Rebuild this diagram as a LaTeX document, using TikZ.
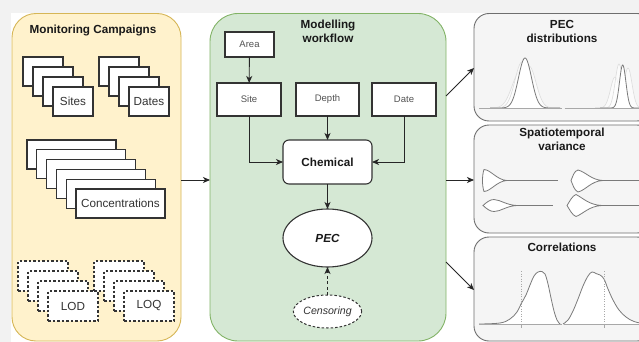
\documentclass[tikz,border=0pt]{standalone}
\usepackage{fontspec}
\setmainfont{Liberation Sans}
\usetikzlibrary{arrows.meta,shapes.geometric,calc}

\definecolor{pagegray}{HTML}{F2F2F2}
\definecolor{yelfill}{HTML}{FFF2CC}
\definecolor{yelline}{HTML}{D6B656}
\definecolor{grnfill}{HTML}{D5E8D4}
\definecolor{grnline}{HTML}{82B366}
\definecolor{panfill}{HTML}{F5F5F5}
\definecolor{panline}{HTML}{6E6E6E}
\definecolor{txtgray}{HTML}{333333}
\definecolor{plotline}{HTML}{7A7A7A}
\definecolor{faintline}{HTML}{DCDCDC}
\definecolor{axisgray}{HTML}{A8A8A8}

\newcommand{\fsbig}{\fontsize{11.7}{14}\selectfont}
\newcommand{\fsmid}{\fontsize{10.6}{12}\selectfont}
\newcommand{\fssmall}{\fontsize{9.5}{11}\selectfont}

\begin{document}
\begin{tikzpicture}[x=1pt,y=-1pt,
  every node/.style={inner sep=0pt, outer sep=0pt},
  lane/.style={draw, line width=0.9pt, rounded corners=24pt},
  panel/.style={draw=panline, fill=panfill, line width=0.9pt, rounded corners=15pt},
  stackbox/.style={draw=txtgray, fill=white, line width=1.1pt, font=\fsbig, text=txtgray},
  dashbox/.style={stackbox, dash pattern=on 2.5pt off 2pt},
  flowbox/.style={draw=txtgray, fill=white, line width=1.1pt, font=\fssmall, text=txtgray!85,
    minimum height=33pt},
  flow/.style={draw=black!85, line width=0.9pt, -{Stealth[length=7pt,width=6pt,inset=2pt]}},
  title/.style={font=\fsbig\bfseries, text=black!90, align=center},
  curve/.style={draw=plotline, line width=0.8pt, fill=white},
  faint/.style={draw=faintline, line width=0.6pt, fill=white, fill opacity=0.6},
  axis/.style={draw=axisgray, line width=0.8pt},
  guide/.style={draw=axisgray, line width=0.6pt, dash pattern=on 1pt off 1.5pt}
]
\useasboundingbox (0,0) rectangle (639,342);
\fill[pagegray] (0,0) rectangle (639,342);
\fill[white] (11,13) rectangle (639,342);

% ---------- containers ----------
\node[lane, draw=yelline, fill=yelfill, minimum width=169pt, minimum height=327.5pt]
  (camp) at (96.5,177.25) {};
\node[lane, draw=grnline, fill=grnfill, rounded corners=28pt, minimum width=236pt, minimum height=327.5pt]
  (model) at (328,177.25) {};
\node[panel, minimum width=178pt, minimum height=107.5pt] (p1) at (563,67.25) {};
\node[panel, minimum width=178pt, minimum height=108pt] (p2) at (563,179) {};
\node[panel, minimum width=178pt, minimum height=104pt] (p3) at (563,289) {};

% ---------- monitoring campaigns ----------
\node[title] (camptitle) at (93,31) {Monitoring Campaigns};

\foreach \i in {0,...,2}
  \node[stackbox, minimum width=40pt, minimum height=29pt] (sitesb\i) at (43+10*\i,71.5+10*\i) {};
\node[stackbox, minimum width=40pt, minimum height=29pt] (sites) at (73,101.5) {Sites};

\foreach \i in {0,...,2}
  \node[stackbox, minimum width=40pt, minimum height=29pt] (datesb\i) at (119+10*\i,71.5+10*\i) {};
\node[stackbox, minimum width=40pt, minimum height=29pt] (dates) at (149,101.5) {Dates};

\foreach \i in {0,...,4}
  \node[stackbox, minimum width=89pt, minimum height=29pt] (concb\i) at (71.5+9.8*\i,154.5+9.8*\i) {};
\node[stackbox, minimum width=89pt, minimum height=29pt] (conc) at (120.5,203.5) {Concentrations};

\foreach \i in {0,...,2}
  \node[dashbox, minimum width=50pt, minimum height=30pt] (lodb\i) at (43+10*\i,276+10*\i) {};
\node[dashbox, minimum width=50pt, minimum height=30pt] (lod) at (73,306) {LOD};

\foreach \i in {0,...,2}
  \node[dashbox, minimum width=50pt, minimum height=30pt] (loqb\i) at (119+10*\i,276+10*\i) {};
\node[dashbox, minimum width=50pt, minimum height=30pt] (loq) at (149,306) {LOQ};

% ---------- modelling workflow ----------
\node[title] (modtitle) at (328,31.5) {Modelling\\workflow};
\node[flowbox, minimum width=49pt, minimum height=25pt] (area) at (249.5,44.5) {Area};
\node[flowbox, minimum width=64pt] (site) at (249,99.5) {Site};
\node[flowbox, minimum width=63pt] (depth) at (327.5,99.5) {Depth};
\node[flowbox, minimum width=64pt] (date) at (404,99.5) {Date};
\node[flowbox, rounded corners=6pt, minimum width=89pt, minimum height=44pt, font=\fsbig\bfseries, text=black!90]
  (chem) at (327.5,162) {Chemical};
\node[draw=txtgray, fill=white, line width=1.1pt, ellipse, minimum width=89pt, minimum height=58pt,
  font=\fsbig\bfseries\itshape, text=black!90] (pec) at (327.5,238) {PEC};
\node[draw=txtgray, fill=white, line width=1pt, ellipse, dash pattern=on 2.5pt off 2pt,
  minimum width=63pt, minimum height=33pt, font=\fsmid\itshape, text=txtgray] (cens) at (327.5,311.5) {Censoring};

\draw[flow] (area) -- (site);
\draw[flow] (site.south) |- (chem.west);
\draw[flow] (depth) -- (chem);
\draw[flow] (date.south) |- (chem.east);
\draw[flow] (chem) -- (pec);
\draw[flow, dash pattern=on 3pt off 2.5pt] (cens) -- (pec);

% ---------- connections between stages ----------
\coordinate (campout) at (camp.east |- 0,180);
\coordinate (modin) at (model.west |- 0,180);
\draw[flow] (campout) -- (modin);
\coordinate (mo1) at (446,96);
\coordinate (mo2) at (446,180);
\coordinate (mo3) at (446,262);
\coordinate (pi1) at (474,68);
\coordinate (pi2) at (474,180);
\coordinate (pi3) at (474,290);
\draw[flow] (mo1) -- (pi1);
\draw[flow] (mo2) -- (pi2);
\draw[flow] (mo3) -- (pi3);

% ---------- PEC distributions ----------
\node[title] (t1) at (562,31) {PEC\\distributions};
\begin{scope}
  \clip (475,14) rectangle (639,120);
  \foreach \m/\h/\s in {520/36/8, 529/42/7, 522/46/7}
    \draw[faint] plot[domain=490:560, samples=70] (\x, {108-\h*exp(-((\x-\m)^2)/(2*\s*\s))});
  \draw[curve] plot[domain=490:560, samples=80] (\x, {108-50*exp(-((\x-525)^2)/(2*6.5*6.5))});
  \foreach \m/\h/\s in {615/31/4.5, 619/44/3.8, 628/40/4}
    \draw[faint] plot[domain=595:645, samples=70] (\x, {108-\h*exp(-((\x-\m)^2)/(2*\s*\s))});
  \draw[curve] plot[domain=600:645, samples=80] (\x, {108-43*exp(-((\x-622.7)^2)/(2*3.2*3.2))});
  \draw[axis] (479,108) -- (561.5,108);
  \draw[axis] (564.5,108) -- (650,108);
\end{scope}

% ---------- spatiotemporal variance ----------
\node[title] (t2) at (562,139.5) {Spatiotemporal\\variance};
\begin{scope}
  \clip (475,126) rectangle (639,232);
  \draw[curve] (507,180.5) .. controls (497,180) and (491,170) .. (484,169.5)
    .. controls (482,175) and (482,186) .. (484,191.5)
    .. controls (491,191) and (497,181) .. (507,180.5) -- cycle;
  \draw[plotline, line width=0.8pt] (507,180.5) -- (558,180.5);
  \draw[curve] (571,180.5) .. controls (573,176) and (574,171) .. (578,170)
    .. controls (586,172) and (591,180) .. (603,180.5)
    .. controls (591,181) and (586,190) .. (578,192)
    .. controls (574,190) and (573,185) .. (571,180.5) -- cycle;
  \draw[plotline, line width=0.8pt] (603,180.5) -- (650,180.5);
  \draw[curve] (483,205.5) .. controls (487,202) and (490,199.5) .. (494,199.5)
    .. controls (501,200) and (506,205) .. (517,205.5)
    .. controls (506,206) and (501,211.5) .. (494,211.5)
    .. controls (490,211.5) and (487,209) .. (483,205.5) -- cycle;
  \draw[plotline, line width=0.8pt] (517,205.5) -- (553,205.5);
  \draw[curve] (567,205.5) .. controls (570,201) and (572,196) .. (576,194.5)
    .. controls (583,198) and (589,205) .. (602,205.5)
    .. controls (589,206) and (583,214) .. (576,216.5)
    .. controls (572,215) and (570,210) .. (567,205.5) -- cycle;
  \draw[plotline, line width=0.8pt] (602,205.5) -- (650,205.5);
\end{scope}

% ---------- correlations ----------
\node[title] (t3) at (562,247.5) {Correlations};
\begin{scope}
  \clip (475,238) rectangle (639,340);
  \draw[curve] plot[smooth, tension=0.6] coordinates {(479,324) (500,323) (510,319) (517,312)
    (521,304) (526,295) (530,285) (534,276) (538,272) (542,271.5) (545,274) (548,284)
    (551,298) (554,311) (557,320) (560,324)};
  \draw[curve] plot[smooth, tension=0.6] coordinates {(563,324) (568,320) (573,311) (578,299)
    (583,286) (588,276) (592,272) (596,273.5) (600,275) (604,279) (608,289) (613,300)
    (619,310) (626,317) (634,321.5) (645,324)};
  \draw[axis] (479,324) -- (561.5,324);
  \draw[axis] (563.5,324) -- (650,324);
  \draw[guide] (521,271) -- (521,324);
  \draw[guide] (604,271) -- (604,324);
  \draw[axis, line width=0.6pt] (521,324) -- (521,328);
  \draw[axis, line width=0.6pt] (604,324) -- (604,328);
\end{scope}
\end{tikzpicture}
\end{document}
